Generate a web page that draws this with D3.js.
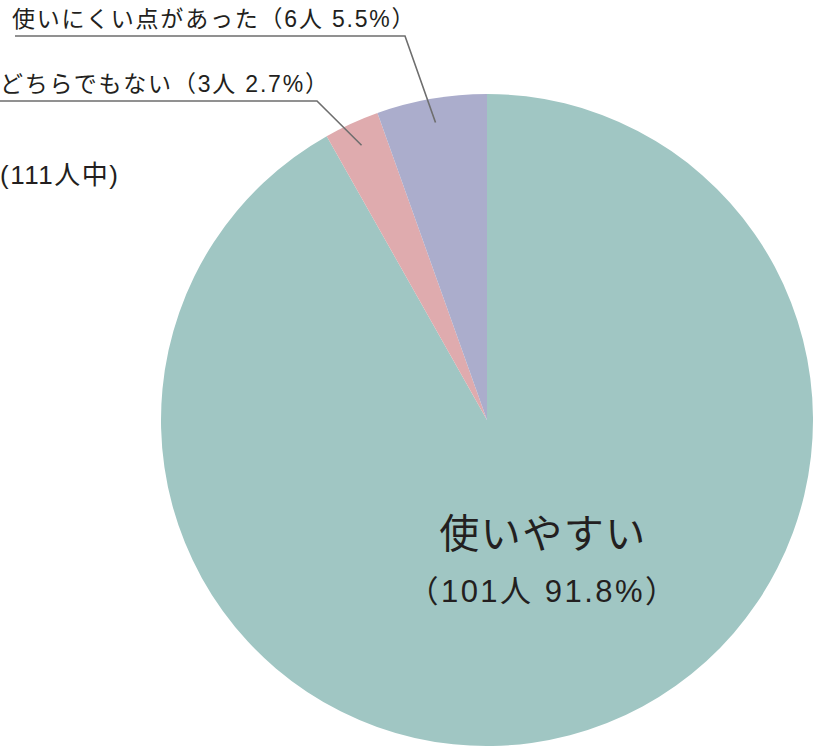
<!DOCTYPE html>
<html>
<head>
<meta charset="utf-8">
<script src="https://cdn.jsdelivr.net/npm/d3@7"></script>
<style>
  body { margin: 0; background: #fff; }
  svg text { font-family: "Liberation Sans", "Noto Sans CJK JP", sans-serif; fill: #231f20; }
</style>
</head>
<body>
<div id="chart"><svg></svg></div>
<script>
// data
const categories = ['使いやすい', 'どちらでもない', '使いにくい点があった']
const counts = [101, 3, 6]
const percents = ['91.8%', '2.7%', '5.5%']
const colors = ['#a0c6c3', '#dfabae', '#abadcc']
const totalLabel = '(111人中)'

const width = 813
const height = 746
const cx = 487, cy = 420, radius = 326

const svg = d3.select('svg')
    .attr('width', width)
    .attr('height', height)

const g = svg.append('g')
    .attr('transform', 'translate(' + cx + ',' + cy + ')')

const pie = d3.pie().sort(null).value(d => d.count)
const slices = pie(categories.map((c, i) => ({name: c, count: counts[i], pct: percents[i], color: colors[i]})))

const arc = d3.arc().innerRadius(0).outerRadius(radius)

g.selectAll('path.slice')
    .data(slices)
    .enter()
    .append('path')
        .attr('class', 'slice')
        .attr('fill', d => d.data.color)
        .attr('d', arc)

// label inside the big slice
const big = slices[0]
g.append('text')
    .attr('x', 56)
    .attr('y', 128)
    .attr('text-anchor', 'middle')
    .attr('font-size', '40px')
    .attr('letter-spacing', '1.5px')
    .text(big.data.name)
g.append('text')
    .attr('x', 56)
    .attr('y', 182)
    .attr('text-anchor', 'middle')
    .attr('font-size', '31px')
    .attr('letter-spacing', '2.5px')
    .text('（' + big.data.count + '人 ' + big.data.pct + '）')

// leader lines for the small slices
const leaderR = 302
const leaders = [
    {slice: slices[2], elbow: [405, 36], start: 15, textX: 12, textY: 27},
    {slice: slices[1], elbow: [317, 101], start: 0, textX: 0, textY: 92}
]

leaders.forEach(l => {
    const a = (l.slice.startAngle + l.slice.endAngle) / 2
    const ex = cx + leaderR * Math.sin(a)
    const ey = cy - leaderR * Math.cos(a)
    svg.append('path')
        .attr('fill', 'none')
        .attr('stroke', '#6e6e6e')
        .attr('stroke-width', 1.6)
        .attr('d', d3.line()([[l.start, l.elbow[1]], l.elbow, [ex, ey]]))
    svg.append('text')
        .attr('x', l.textX)
        .attr('y', l.textY)
        .attr('font-size', '23px')
        .attr('letter-spacing', '1.8px')
        .text(l.slice.data.name + '（' + l.slice.data.count + '人 ' + l.slice.data.pct + '）')
})

svg.append('text')
    .attr('x', 0)
    .attr('y', 184)
    .attr('font-size', '26px')
    .attr('letter-spacing', '1.5px')
    .text(totalLabel)
</script>
</body>
</html>
